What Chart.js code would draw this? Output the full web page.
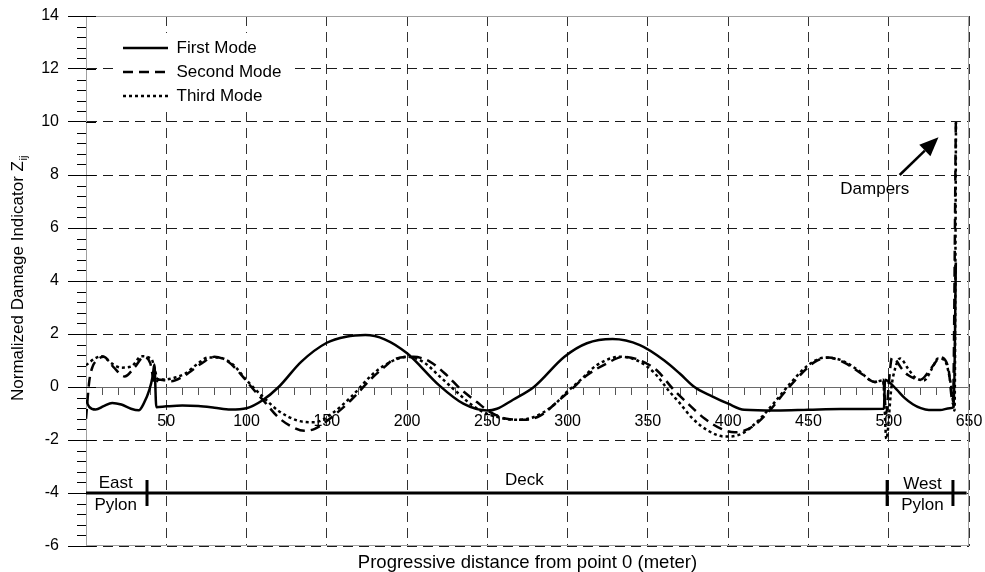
<!DOCTYPE html>
<html>
<head>
<meta charset="utf-8">
<script src="https://cdn.jsdelivr.net/npm/chart.js@4"></script>
<style>
  html, body { margin: 0; padding: 0; background: #fff; }
  canvas { display: block; }
</style>
</head>
<body>
<canvas id="c" width="985" height="572"></canvas>
<script>
// ---------------- data ----------------
const seriesNames = ['First Mode', 'Second Mode', 'Third Mode'];

const firstModeX = [0, 2, 6, 11, 16.3, 22, 28, 32.9, 36, 39.5, 41.5, 42.6, 43.8, 50, 60, 70, 80, 90, 100, 110, 120, 134, 150, 162, 174, 186, 200, 220, 235, 250, 256, 266, 279, 298, 312, 328, 345, 360, 370, 379, 390, 400, 410, 430, 450, 470, 497, 497.7, 500, 505, 510, 515, 520, 525, 532, 538, 540.5, 541.8];
const firstModeY = [-0.5, -0.75, -0.85, -0.72, -0.6, -0.66, -0.82, -0.88, -0.62, -0.1, 0.4, 0.85, -0.76, -0.73, -0.7, -0.72, -0.78, -0.85, -0.8, -0.5, 0, 0.95, 1.67, 1.9, 1.96, 1.8, 1.27, 0.06, -0.63, -0.89, -0.82, -0.48, 0, 1.14, 1.65, 1.81, 1.58, 1.01, 0.5, 0, -0.35, -0.63, -0.86, -0.89, -0.86, -0.83, -0.82, 0.27, 0.2, -0.1, -0.42, -0.65, -0.8, -0.87, -0.87, -0.8, -0.76, 4.7];

const secondModeX = [0, 2, 4, 7.5, 11, 17, 24, 30.5, 36, 40, 43, 45, 49, 53, 61.6, 72, 80, 88.6, 97, 103, 111.4, 119.7, 128, 136, 142.5, 153, 165, 177.8, 186, 191.6, 204, 214.4, 224.8, 233, 243.5, 251.8, 262, 272.5, 283, 293.3, 301.6, 312, 324.4, 334.8, 345, 355.5, 366, 375, 385.5, 395.8, 404, 414.5, 424.9, 435.3, 445.6, 454, 462.2, 472.6, 483, 491.3, 496.5, 498.5, 500, 502, 504, 508, 512, 520, 524.5, 528.6, 532, 537, 540, 541.8];
const secondModeY = [-1.2, 0.2, 0.75, 1.05, 1.14, 0.76, 0.4, 0.76, 1.14, 0.9, 0.1, 0.28, 0.25, 0.22, 0.44, 0.89, 1.14, 0.95, 0.44, 0, -0.57, -1.14, -1.49, -1.65, -1.58, -1.14, -0.5, 0.32, 0.76, 1.04, 1.14, 0.95, 0.44, -0.06, -0.57, -0.95, -1.2, -1.24, -1.08, -0.57, -0.13, 0.44, 0.89, 1.14, 1.01, 0.63, -0.1, -0.63, -1.2, -1.58, -1.71, -1.52, -0.95, -0.19, 0.5, 0.95, 1.11, 0.91, 0.5, 0.19, 0.28, -1.0, 0.1, 1.1, 1.05, 0.7, 0.45, 0.28, 0.55, 0.89, 1.12, 0.76, -0.63, 10];

const thirdModeX = [0, 5.6, 9.8, 16, 22, 28.4, 34.6, 40.9, 43, 44.5, 49, 55, 61.6, 70, 76, 82, 90.7, 101, 111.4, 119.7, 132, 142.5, 153, 165, 177.8, 186, 200, 210, 220.6, 231, 239.3, 247.6, 258, 268.4, 278.7, 291, 299.5, 307.8, 318, 332.7, 343, 353.4, 363.8, 370, 377, 387.5, 398, 408.3, 418.7, 429, 439.4, 449.8, 460, 470.5, 481, 491.3, 496.5, 498.5, 501.7, 504, 507, 512, 516, 522, 527, 530.7, 534.8, 539, 541, 541.9];
const thirdModeY = [0.82, 1.08, 1.16, 0.89, 0.73, 0.78, 1.16, 1.04, 0.63, 0.3, 0.28, 0.35, 0.5, 0.9, 1.11, 1.11, 0.89, 0.19, -0.44, -0.89, -1.27, -1.33, -1.01, -0.38, 0.44, 0.82, 1.14, 0.95, 0.38, -0.19, -0.63, -0.95, -1.16, -1.24, -1.14, -0.7, -0.19, 0.25, 0.82, 1.14, 1.01, 0.57, -0.2, -0.62, -1.14, -1.65, -1.87, -1.77, -1.27, -0.57, 0.19, 0.82, 1.11, 1.01, 0.63, 0.19, 0.25, -1.96, 0, 0.7, 1.08, 0.7, 0.38, 0.25, 0.7, 1.08, 1.01, 0, -0.89, 10];

// structure line (deck at level -4) and pylon/deck boundary marks
const deckLineX = [0, 548.5];
const deckLineY = [-4, -4];
const boundaryMarkX = [38, 499, 540];
const boundaryMarkY = [-4, -4, -4];

// tick labels of the distance axis (as printed)
const xTickValues = [50, 100, 150, 200, 250, 300, 350, 400, 450, 500, 550];
const xTickLabels = ['50', '100', '150', '200', '250', '300', '350', '400', '450', '500', '650'];

// annotation texts, anchored in data units
const noteTexts = ['East', 'Pylon', 'Deck', 'West', 'Pylon', 'Dampers'];
const noteX = [18.5, 18.5, 273, 521, 521, 491.3];
const noteY = [-3.63, -4.45, -3.53, -3.66, -4.46, 7.45];
const arrowFrom = [506.8, 8.0];
const arrowTo = [531, 9.42];

// ---------------- chart ----------------
const FONT = "'Liberation Sans', Arial, Helvetica, sans-serif";
Chart.defaults.font.family = FONT;
Chart.defaults.color = '#000';

const toPts = (xs, ys) => xs.map((x, i) => ({ x: x, y: ys[i] }));

const modeStyle = (dash) => ({
  borderColor: '#000',
  backgroundColor: '#000',
  borderWidth: 2.5,
  borderDash: dash,
  borderCapStyle: 'butt',
  pointRadius: 0,
  pointHoverRadius: 0,
  fill: false,
  cubicInterpolationMode: 'monotone'
});

const decor = {
  id: 'decor',
  afterLayout(chart) {
    const lg = chart.legend;
    if (lg) {
      lg.left = 116; lg.top = 32.5;
      lg.width = 300; lg.height = 200;
      lg.right = lg.left + lg.width; lg.bottom = lg.top + lg.height;
      if (!lg._bgPatched) {
        const orig = lg.draw;
        lg.draw = function (area) {
          const c = this.ctx;
          c.save();
          c.fillStyle = '#fff';
          c.fillRect(this.left - 1, this.top + 0.5, 180, 78);
          c.restore();
          orig.call(this, area);
        };
        lg._bgPatched = true;
      }
    }
  },
  beforeDatasetsDraw(chart) {
    const { ctx, chartArea: a, scales } = chart;
    const y = scales.y;
    ctx.save();
    // light frame
    ctx.strokeStyle = '#a0a0a0';
    ctx.lineWidth = 1;
    ctx.strokeRect(a.left + 0.5, a.top + 0.5, a.right - a.left - 1, a.bottom - a.top - 1);
    // minor ticks / inner part of major ticks on the value axis
    ctx.strokeStyle = '#000';
    for (let k = 0; k <= 50; k++) {
      const v = -6 + k * 0.4;
      const py = Math.round(y.getPixelForValue(v)) + 0.5;
      ctx.beginPath();
      if (k % 5 === 0) { ctx.moveTo(a.left, py); ctx.lineTo(a.left + 10, py); }
      else { ctx.moveTo(a.left - 9, py); ctx.lineTo(a.left, py); }
      ctx.stroke();
    }
    ctx.restore();
  },
  afterDatasetsDraw(chart) {
    const { ctx, scales } = chart;
    const x = scales.x, y = scales.y;
    ctx.save();
    ctx.fillStyle = '#000';
    ctx.font = '17px ' + FONT;
    ctx.textAlign = 'center';
    ctx.textBaseline = 'middle';
    noteTexts.forEach((t, i) => {
      ctx.fillText(t, x.getPixelForValue(noteX[i]), y.getPixelForValue(noteY[i]));
    });
    // arrow
    const x0 = x.getPixelForValue(arrowFrom[0]), y0 = y.getPixelForValue(arrowFrom[1]);
    const x1 = x.getPixelForValue(arrowTo[0]), y1 = y.getPixelForValue(arrowTo[1]);
    const ang = Math.atan2(y1 - y0, x1 - x0);
    const hl = 19, hw = 8;
    const bx = x1 - hl * Math.cos(ang), by = y1 - hl * Math.sin(ang);
    ctx.strokeStyle = '#000';
    ctx.lineWidth = 2.5;
    ctx.beginPath(); ctx.moveTo(x0, y0); ctx.lineTo(bx, by); ctx.stroke();
    ctx.beginPath();
    ctx.moveTo(x1, y1);
    ctx.lineTo(bx + hw * Math.sin(ang), by - hw * Math.cos(ang));
    ctx.lineTo(bx - hw * Math.sin(ang), by + hw * Math.cos(ang));
    ctx.closePath(); ctx.fill();
    ctx.restore();
  },
  afterDraw(chart) {
    // subscript "ij" of the value-axis title
    const { ctx, chartArea: a, scales } = chart;
    const t = scales.y.options.title;
    ctx.save();
    ctx.font = '17px ' + FONT;
    const w = ctx.measureText(t.text).width;
    const cx = 17 * 1.2 / 2 + 8;
    const cy = (a.top + a.bottom) / 2;
    ctx.translate(cx, cy - w / 2);
    ctx.rotate(-Math.PI / 2);
    ctx.font = '11px ' + FONT;
    ctx.fillStyle = '#000';
    ctx.textAlign = 'left';
    ctx.textBaseline = 'middle';
    ctx.fillText('ij', 0.5, 6);
    ctx.restore();
  }
};

new Chart(document.getElementById('c'), {
  type: 'line',
  data: {
    datasets: [
      Object.assign({ label: seriesNames[0], data: toPts(firstModeX, firstModeY) }, modeStyle([])),
      Object.assign({ label: seriesNames[1], data: toPts(secondModeX, secondModeY) }, modeStyle([10, 6])),
      Object.assign({ label: seriesNames[2], data: toPts(thirdModeX, thirdModeY) }, modeStyle([3, 3])),
      {
        label: 'Deck line', data: toPts(deckLineX, deckLineY),
        borderColor: '#000', borderWidth: 3, pointRadius: 0, fill: false
      },
      {
        label: 'Boundaries', data: toPts(boundaryMarkX, boundaryMarkY),
        showLine: false, pointStyle: 'line', rotation: 90, pointRotation: 90,
        pointRadius: 13, pointHoverRadius: 13, pointBorderWidth: 3,
        borderColor: '#000', pointBorderColor: '#000', pointBackgroundColor: '#000'
      }
    ]
  },
  options: {
    responsive: false,
    animation: false,
    devicePixelRatio: 1,
    events: [],
    layout: { padding: { top: 15, right: 16, bottom: 0, left: 0 } },
    plugins: {
      tooltip: { enabled: false },
      legend: {
        display: true,
        position: 'chartArea',
        align: 'start',
        labels: {
          usePointStyle: true,
          pointStyle: 'line',
          pointStyleWidth: 45,
          boxHeight: 17,
          padding: 7,
          color: '#000',
          font: { size: 17, family: FONT },
          generateLabels: (chart) => {
            const base = Chart.defaults.plugins.legend.labels.generateLabels(chart);
            return base.filter((it) => it.datasetIndex < 3).map((it) => {
              const ds = chart.data.datasets[it.datasetIndex];
              it.lineDash = ds.borderDash;
              it.lineWidth = 2.5;
              it.strokeStyle = '#000';
              it.fillStyle = '#000';
              it.pointStyle = 'line';
              it.lineCap = 'butt';
              return it;
            });
          }
        }
      }
    },
    scales: {
      x: {
        type: 'linear',
        position: 'bottom',
        min: 0, max: 550,
        afterFit: (s) => { s.height = 26; },
        ticks: { display: false, stepSize: 50 },
        grid: { color: '#333', lineWidth: 1, drawTicks: false, z: -1 },
        border: { display: false, dash: [10, 6] },
        title: {
          display: true,
          text: 'Progressive distance from point 0 (meter)',
          color: '#000',
          font: { size: 18.5, family: FONT, lineHeight: 1 },
          padding: { top: 0, bottom: 0 }
        }
      },
      x2: {
        type: 'linear',
        axis: 'x',
        position: { y: 0 },
        min: 0, max: 550,
        ticks: {
          stepSize: 10,
          autoSkip: false,
          maxRotation: 0,
          padding: 0,
          color: '#000',
          font: { size: 16, family: FONT, lineHeight: 3.3 },
          callback: (v) => {
            const i = xTickValues.indexOf(v);
            return i >= 0 ? xTickLabels[i] : '';
          }
        },
        grid: { drawOnChartArea: false, drawTicks: true, tickLength: 8, tickColor: '#555', tickWidth: 1 },
        border: { display: false }
      },
      y: {
        type: 'linear',
        position: 'left',
        min: -6, max: 14,
        afterFit: (s) => { s.width = 86; },
        ticks: { stepSize: 2, padding: 9, color: '#000', font: { size: 16, family: FONT, lineHeight: 0.75 } },
        grid: {
          color: (c) => (c.tick && c.tick.value === 0) ? '#6a6a6a' : '#1a1a1a',
          lineWidth: 1,
          tickLength: 18,
          tickColor: '#000',
          tickWidth: 1,
          tickBorderDash: [],
          z: -1
        },
        border: {
          display: true, color: '#000', width: 1,
          dash: (c) => (c.tick && c.tick.value === 0) ? [] : [10, 6]
        },
        title: {
          display: true,
          text: 'Normalized Damage Indicator Z',
          color: '#000',
          font: { size: 17, family: FONT },
          padding: { top: 8, bottom: 0 }
        }
      }
    }
  },
  plugins: [decor]
});
</script>
</body>
</html>
